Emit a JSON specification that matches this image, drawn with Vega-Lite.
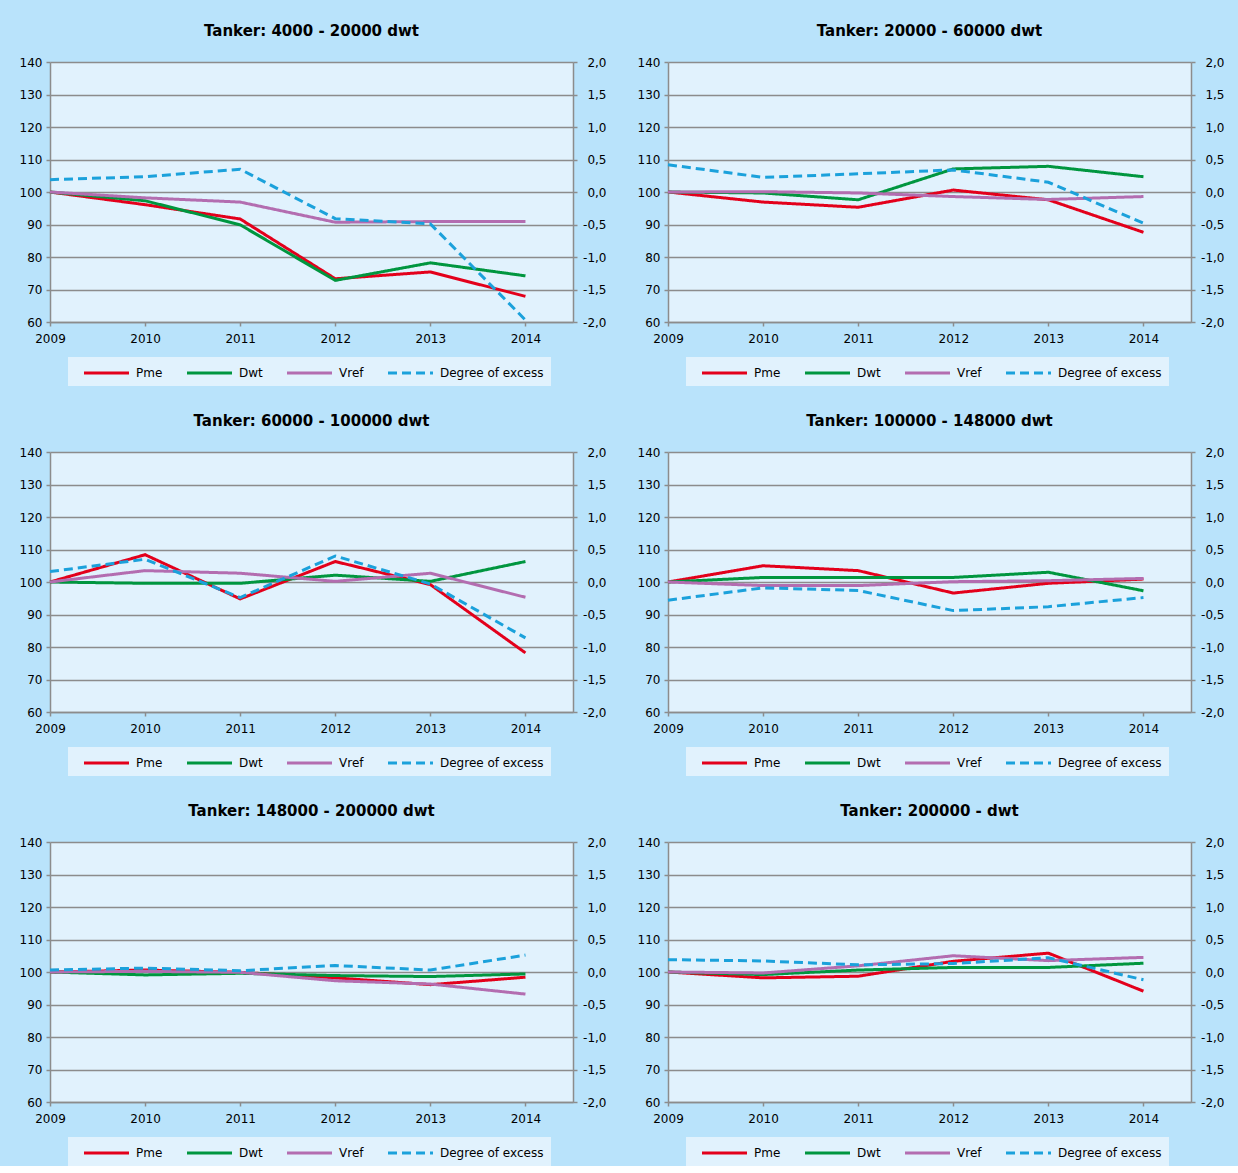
{
  "$schema": "https://vega.github.io/schema/vega-lite/v6.json",
  "padding": {"left": 19, "top": 24, "right": 14, "bottom": 0},
  "spacing": {"row": 28, "column": 31},
  "columns": 2,
  "data": {
    "values": [
      {"panel": 1, "series": "Pme", "year": 2009, "value": 100},
      {"panel": 1, "series": "Pme", "year": 2010, "value": 96.1},
      {"panel": 1, "series": "Pme", "year": 2011, "value": 91.7},
      {"panel": 1, "series": "Pme", "year": 2012, "value": 73.3},
      {"panel": 1, "series": "Pme", "year": 2013, "value": 75.4},
      {"panel": 1, "series": "Pme", "year": 2014, "value": 67.9},
      {"panel": 1, "series": "Dwt", "year": 2009, "value": 100},
      {"panel": 1, "series": "Dwt", "year": 2010, "value": 97.3},
      {"panel": 1, "series": "Dwt", "year": 2011, "value": 89.9},
      {"panel": 1, "series": "Dwt", "year": 2012, "value": 72.8},
      {"panel": 1, "series": "Dwt", "year": 2013, "value": 78.2},
      {"panel": 1, "series": "Dwt", "year": 2014, "value": 74.2},
      {"panel": 1, "series": "Vref", "year": 2009, "value": 100},
      {"panel": 1, "series": "Vref", "year": 2010, "value": 98.2},
      {"panel": 1, "series": "Vref", "year": 2011, "value": 96.9},
      {"panel": 1, "series": "Vref", "year": 2012, "value": 90.7},
      {"panel": 1, "series": "Vref", "year": 2013, "value": 90.9},
      {"panel": 1, "series": "Vref", "year": 2014, "value": 90.9},
      {"panel": 1, "series": "Degree of excess", "year": 2009, "value": 0.19},
      {"panel": 1, "series": "Degree of excess", "year": 2010, "value": 0.235},
      {"panel": 1, "series": "Degree of excess", "year": 2011, "value": 0.35},
      {"panel": 1, "series": "Degree of excess", "year": 2012, "value": -0.41},
      {"panel": 1, "series": "Degree of excess", "year": 2013, "value": -0.49},
      {"panel": 1, "series": "Degree of excess", "year": 2014, "value": -1.97},

      {"panel": 2, "series": "Pme", "year": 2009, "value": 100},
      {"panel": 2, "series": "Pme", "year": 2010, "value": 96.9},
      {"panel": 2, "series": "Pme", "year": 2011, "value": 95.3},
      {"panel": 2, "series": "Pme", "year": 2012, "value": 100.6},
      {"panel": 2, "series": "Pme", "year": 2013, "value": 97.6},
      {"panel": 2, "series": "Pme", "year": 2014, "value": 87.6},
      {"panel": 2, "series": "Dwt", "year": 2009, "value": 100},
      {"panel": 2, "series": "Dwt", "year": 2010, "value": 99.7},
      {"panel": 2, "series": "Dwt", "year": 2011, "value": 97.6},
      {"panel": 2, "series": "Dwt", "year": 2012, "value": 107.1},
      {"panel": 2, "series": "Dwt", "year": 2013, "value": 107.9},
      {"panel": 2, "series": "Dwt", "year": 2014, "value": 104.7},
      {"panel": 2, "series": "Vref", "year": 2009, "value": 100},
      {"panel": 2, "series": "Vref", "year": 2010, "value": 100.1},
      {"panel": 2, "series": "Vref", "year": 2011, "value": 99.7},
      {"panel": 2, "series": "Vref", "year": 2012, "value": 98.6},
      {"panel": 2, "series": "Vref", "year": 2013, "value": 97.7},
      {"panel": 2, "series": "Vref", "year": 2014, "value": 98.6},
      {"panel": 2, "series": "Degree of excess", "year": 2009, "value": 0.42},
      {"panel": 2, "series": "Degree of excess", "year": 2010, "value": 0.225},
      {"panel": 2, "series": "Degree of excess", "year": 2011, "value": 0.28},
      {"panel": 2, "series": "Degree of excess", "year": 2012, "value": 0.34},
      {"panel": 2, "series": "Degree of excess", "year": 2013, "value": 0.15},
      {"panel": 2, "series": "Degree of excess", "year": 2014, "value": -0.48},

      {"panel": 3, "series": "Pme", "year": 2009, "value": 100},
      {"panel": 3, "series": "Pme", "year": 2010, "value": 108.4},
      {"panel": 3, "series": "Pme", "year": 2011, "value": 94.8},
      {"panel": 3, "series": "Pme", "year": 2012, "value": 106.3},
      {"panel": 3, "series": "Pme", "year": 2013, "value": 99.2},
      {"panel": 3, "series": "Pme", "year": 2014, "value": 78.2},
      {"panel": 3, "series": "Dwt", "year": 2009, "value": 100},
      {"panel": 3, "series": "Dwt", "year": 2010, "value": 99.6},
      {"panel": 3, "series": "Dwt", "year": 2011, "value": 99.6},
      {"panel": 3, "series": "Dwt", "year": 2012, "value": 102.1},
      {"panel": 3, "series": "Dwt", "year": 2013, "value": 100.2},
      {"panel": 3, "series": "Dwt", "year": 2014, "value": 106.3},
      {"panel": 3, "series": "Vref", "year": 2009, "value": 100},
      {"panel": 3, "series": "Vref", "year": 2010, "value": 103.5},
      {"panel": 3, "series": "Vref", "year": 2011, "value": 102.7},
      {"panel": 3, "series": "Vref", "year": 2012, "value": 100.2},
      {"panel": 3, "series": "Vref", "year": 2013, "value": 102.7},
      {"panel": 3, "series": "Vref", "year": 2014, "value": 95.3},
      {"panel": 3, "series": "Degree of excess", "year": 2009, "value": 0.16},
      {"panel": 3, "series": "Degree of excess", "year": 2010, "value": 0.35},
      {"panel": 3, "series": "Degree of excess", "year": 2011, "value": -0.24},
      {"panel": 3, "series": "Degree of excess", "year": 2012, "value": 0.40},
      {"panel": 3, "series": "Degree of excess", "year": 2013, "value": -0.03},
      {"panel": 3, "series": "Degree of excess", "year": 2014, "value": -0.86},

      {"panel": 4, "series": "Pme", "year": 2009, "value": 100},
      {"panel": 4, "series": "Pme", "year": 2010, "value": 105.0},
      {"panel": 4, "series": "Pme", "year": 2011, "value": 103.5},
      {"panel": 4, "series": "Pme", "year": 2012, "value": 96.6},
      {"panel": 4, "series": "Pme", "year": 2013, "value": 99.6},
      {"panel": 4, "series": "Pme", "year": 2014, "value": 100.9},
      {"panel": 4, "series": "Dwt", "year": 2009, "value": 100},
      {"panel": 4, "series": "Dwt", "year": 2010, "value": 101.4},
      {"panel": 4, "series": "Dwt", "year": 2011, "value": 101.4},
      {"panel": 4, "series": "Dwt", "year": 2012, "value": 101.4},
      {"panel": 4, "series": "Dwt", "year": 2013, "value": 103.0},
      {"panel": 4, "series": "Dwt", "year": 2014, "value": 97.3},
      {"panel": 4, "series": "Vref", "year": 2009, "value": 100},
      {"panel": 4, "series": "Vref", "year": 2010, "value": 98.9},
      {"panel": 4, "series": "Vref", "year": 2011, "value": 98.9},
      {"panel": 4, "series": "Vref", "year": 2012, "value": 100.1},
      {"panel": 4, "series": "Vref", "year": 2013, "value": 100.4},
      {"panel": 4, "series": "Vref", "year": 2014, "value": 101.1},
      {"panel": 4, "series": "Degree of excess", "year": 2009, "value": -0.28},
      {"panel": 4, "series": "Degree of excess", "year": 2010, "value": -0.09},
      {"panel": 4, "series": "Degree of excess", "year": 2011, "value": -0.13},
      {"panel": 4, "series": "Degree of excess", "year": 2012, "value": -0.44},
      {"panel": 4, "series": "Degree of excess", "year": 2013, "value": -0.38},
      {"panel": 4, "series": "Degree of excess", "year": 2014, "value": -0.24},

      {"panel": 5, "series": "Pme", "year": 2009, "value": 100},
      {"panel": 5, "series": "Pme", "year": 2010, "value": 100.6},
      {"panel": 5, "series": "Pme", "year": 2011, "value": 99.9},
      {"panel": 5, "series": "Pme", "year": 2012, "value": 98.2},
      {"panel": 5, "series": "Pme", "year": 2013, "value": 96.1},
      {"panel": 5, "series": "Pme", "year": 2014, "value": 98.4},
      {"panel": 5, "series": "Dwt", "year": 2009, "value": 100},
      {"panel": 5, "series": "Dwt", "year": 2010, "value": 99.1},
      {"panel": 5, "series": "Dwt", "year": 2011, "value": 99.6},
      {"panel": 5, "series": "Dwt", "year": 2012, "value": 98.9},
      {"panel": 5, "series": "Dwt", "year": 2013, "value": 98.6},
      {"panel": 5, "series": "Dwt", "year": 2014, "value": 99.4},
      {"panel": 5, "series": "Vref", "year": 2009, "value": 100},
      {"panel": 5, "series": "Vref", "year": 2010, "value": 100.2},
      {"panel": 5, "series": "Vref", "year": 2011, "value": 99.9},
      {"panel": 5, "series": "Vref", "year": 2012, "value": 97.3},
      {"panel": 5, "series": "Vref", "year": 2013, "value": 96.3},
      {"panel": 5, "series": "Vref", "year": 2014, "value": 93.2},
      {"panel": 5, "series": "Degree of excess", "year": 2009, "value": 0.03},
      {"panel": 5, "series": "Degree of excess", "year": 2010, "value": 0.06},
      {"panel": 5, "series": "Degree of excess", "year": 2011, "value": 0.02},
      {"panel": 5, "series": "Degree of excess", "year": 2012, "value": 0.10},
      {"panel": 5, "series": "Degree of excess", "year": 2013, "value": 0.03},
      {"panel": 5, "series": "Degree of excess", "year": 2014, "value": 0.26},

      {"panel": 6, "series": "Pme", "year": 2009, "value": 100},
      {"panel": 6, "series": "Pme", "year": 2010, "value": 98.2},
      {"panel": 6, "series": "Pme", "year": 2011, "value": 98.7},
      {"panel": 6, "series": "Pme", "year": 2012, "value": 103.3},
      {"panel": 6, "series": "Pme", "year": 2013, "value": 105.8},
      {"panel": 6, "series": "Pme", "year": 2014, "value": 94.1},
      {"panel": 6, "series": "Dwt", "year": 2009, "value": 100},
      {"panel": 6, "series": "Dwt", "year": 2010, "value": 99.2},
      {"panel": 6, "series": "Dwt", "year": 2011, "value": 100.6},
      {"panel": 6, "series": "Dwt", "year": 2012, "value": 101.4},
      {"panel": 6, "series": "Dwt", "year": 2013, "value": 101.4},
      {"panel": 6, "series": "Dwt", "year": 2014, "value": 102.7},
      {"panel": 6, "series": "Vref", "year": 2009, "value": 100},
      {"panel": 6, "series": "Vref", "year": 2010, "value": 99.7},
      {"panel": 6, "series": "Vref", "year": 2011, "value": 101.9},
      {"panel": 6, "series": "Vref", "year": 2012, "value": 105.0},
      {"panel": 6, "series": "Vref", "year": 2013, "value": 103.5},
      {"panel": 6, "series": "Vref", "year": 2014, "value": 104.5},
      {"panel": 6, "series": "Degree of excess", "year": 2009, "value": 0.19},
      {"panel": 6, "series": "Degree of excess", "year": 2010, "value": 0.17},
      {"panel": 6, "series": "Degree of excess", "year": 2011, "value": 0.11},
      {"panel": 6, "series": "Degree of excess", "year": 2012, "value": 0.13},
      {"panel": 6, "series": "Degree of excess", "year": 2013, "value": 0.22},
      {"panel": 6, "series": "Degree of excess", "year": 2014, "value": -0.12}
    ]
  },
  "concat": [
    {
      "title": "Tanker: 4000 - 20000 dwt",
      "width": 523, "height": 260,
      "transform": [{"filter": "datum.panel == 1"}],
      "layer": [
        {
          "transform": [{"filter": "datum.series != 'Degree of excess'"}],
          "mark": {"type": "line", "strokeWidth": 3},
          "encoding": {
            "x": {"field": "year", "type": "quantitative", "scale": {"domain": [2009, 2014.5], "nice": false}, "axis": {"values": [2009, 2010, 2011, 2012, 2013, 2014], "format": "d", "grid": false, "labelPadding": 7}},
            "y": {"field": "value", "type": "quantitative", "scale": {"domain": [60, 140], "nice": false}, "axis": {"values": [60, 70, 80, 90, 100, 110, 120, 130, 140], "grid": true}},
            "color": {"field": "series", "type": "nominal", "title": null, "scale": {"domain": ["Pme", "Dwt", "Vref", "Degree of excess"], "range": ["#e3001b", "#00963f", "#b36db0", "#1ba1db"]}, "legend": {"orient": "none", "legendX": 18, "legendY": 295}},
            "strokeDash": {"field": "series", "type": "nominal", "title": null, "scale": {"domain": ["Pme", "Dwt", "Vref", "Degree of excess"], "range": [[1, 0], [1, 0], [1, 0], [9, 5]]}, "legend": {"orient": "none", "legendX": 18, "legendY": 295}}
          }
        },
        {
          "transform": [{"filter": "datum.series == 'Degree of excess'"}],
          "mark": {"type": "line", "strokeWidth": 3},
          "encoding": {
            "x": {"field": "year", "type": "quantitative"},
            "y": {"field": "value", "type": "quantitative", "scale": {"domain": [-2, 2], "nice": false}, "axis": {"orient": "right", "values": [-2, -1.5, -1, -0.5, 0, 0.5, 1, 1.5, 2], "grid": false, "labelAlign": "right", "labelPadding": 29, "labelExpr": "replace(replace(format(datum.value, '.1f'), '.', ','), '\u2212', '-')"}},
            "color": {"field": "series", "type": "nominal", "title": null},
            "strokeDash": {"field": "series", "type": "nominal", "title": null}
          }
        }
      ],
      "resolve": {"scale": {"y": "independent"}}
    },
    {
      "title": "Tanker: 20000 - 60000 dwt",
      "width": 523, "height": 260,
      "transform": [{"filter": "datum.panel == 2"}],
      "layer": [
        {
          "transform": [{"filter": "datum.series != 'Degree of excess'"}],
          "mark": {"type": "line", "strokeWidth": 3},
          "encoding": {
            "x": {"field": "year", "type": "quantitative", "scale": {"domain": [2009, 2014.5], "nice": false}, "axis": {"values": [2009, 2010, 2011, 2012, 2013, 2014], "format": "d", "grid": false, "labelPadding": 7}},
            "y": {"field": "value", "type": "quantitative", "scale": {"domain": [60, 140], "nice": false}, "axis": {"values": [60, 70, 80, 90, 100, 110, 120, 130, 140], "grid": true}},
            "color": {"field": "series", "type": "nominal", "title": null, "scale": {"domain": ["Pme", "Dwt", "Vref", "Degree of excess"], "range": ["#e3001b", "#00963f", "#b36db0", "#1ba1db"]}, "legend": {"orient": "none", "legendX": 18, "legendY": 295}},
            "strokeDash": {"field": "series", "type": "nominal", "title": null, "scale": {"domain": ["Pme", "Dwt", "Vref", "Degree of excess"], "range": [[1, 0], [1, 0], [1, 0], [9, 5]]}, "legend": {"orient": "none", "legendX": 18, "legendY": 295}}
          }
        },
        {
          "transform": [{"filter": "datum.series == 'Degree of excess'"}],
          "mark": {"type": "line", "strokeWidth": 3},
          "encoding": {
            "x": {"field": "year", "type": "quantitative"},
            "y": {"field": "value", "type": "quantitative", "scale": {"domain": [-2, 2], "nice": false}, "axis": {"orient": "right", "values": [-2, -1.5, -1, -0.5, 0, 0.5, 1, 1.5, 2], "grid": false, "labelAlign": "right", "labelPadding": 29, "labelExpr": "replace(replace(format(datum.value, '.1f'), '.', ','), '\u2212', '-')"}},
            "color": {"field": "series", "type": "nominal", "title": null},
            "strokeDash": {"field": "series", "type": "nominal", "title": null}
          }
        }
      ],
      "resolve": {"scale": {"y": "independent"}}
    },
    {
      "title": "Tanker: 60000 - 100000 dwt",
      "width": 523, "height": 260,
      "transform": [{"filter": "datum.panel == 3"}],
      "layer": [
        {
          "transform": [{"filter": "datum.series != 'Degree of excess'"}],
          "mark": {"type": "line", "strokeWidth": 3},
          "encoding": {
            "x": {"field": "year", "type": "quantitative", "scale": {"domain": [2009, 2014.5], "nice": false}, "axis": {"values": [2009, 2010, 2011, 2012, 2013, 2014], "format": "d", "grid": false, "labelPadding": 7}},
            "y": {"field": "value", "type": "quantitative", "scale": {"domain": [60, 140], "nice": false}, "axis": {"values": [60, 70, 80, 90, 100, 110, 120, 130, 140], "grid": true}},
            "color": {"field": "series", "type": "nominal", "title": null, "scale": {"domain": ["Pme", "Dwt", "Vref", "Degree of excess"], "range": ["#e3001b", "#00963f", "#b36db0", "#1ba1db"]}, "legend": {"orient": "none", "legendX": 18, "legendY": 295}},
            "strokeDash": {"field": "series", "type": "nominal", "title": null, "scale": {"domain": ["Pme", "Dwt", "Vref", "Degree of excess"], "range": [[1, 0], [1, 0], [1, 0], [9, 5]]}, "legend": {"orient": "none", "legendX": 18, "legendY": 295}}
          }
        },
        {
          "transform": [{"filter": "datum.series == 'Degree of excess'"}],
          "mark": {"type": "line", "strokeWidth": 3},
          "encoding": {
            "x": {"field": "year", "type": "quantitative"},
            "y": {"field": "value", "type": "quantitative", "scale": {"domain": [-2, 2], "nice": false}, "axis": {"orient": "right", "values": [-2, -1.5, -1, -0.5, 0, 0.5, 1, 1.5, 2], "grid": false, "labelAlign": "right", "labelPadding": 29, "labelExpr": "replace(replace(format(datum.value, '.1f'), '.', ','), '\u2212', '-')"}},
            "color": {"field": "series", "type": "nominal", "title": null},
            "strokeDash": {"field": "series", "type": "nominal", "title": null}
          }
        }
      ],
      "resolve": {"scale": {"y": "independent"}}
    },
    {
      "title": "Tanker: 100000 - 148000 dwt",
      "width": 523, "height": 260,
      "transform": [{"filter": "datum.panel == 4"}],
      "layer": [
        {
          "transform": [{"filter": "datum.series != 'Degree of excess'"}],
          "mark": {"type": "line", "strokeWidth": 3},
          "encoding": {
            "x": {"field": "year", "type": "quantitative", "scale": {"domain": [2009, 2014.5], "nice": false}, "axis": {"values": [2009, 2010, 2011, 2012, 2013, 2014], "format": "d", "grid": false, "labelPadding": 7}},
            "y": {"field": "value", "type": "quantitative", "scale": {"domain": [60, 140], "nice": false}, "axis": {"values": [60, 70, 80, 90, 100, 110, 120, 130, 140], "grid": true}},
            "color": {"field": "series", "type": "nominal", "title": null, "scale": {"domain": ["Pme", "Dwt", "Vref", "Degree of excess"], "range": ["#e3001b", "#00963f", "#b36db0", "#1ba1db"]}, "legend": {"orient": "none", "legendX": 18, "legendY": 295}},
            "strokeDash": {"field": "series", "type": "nominal", "title": null, "scale": {"domain": ["Pme", "Dwt", "Vref", "Degree of excess"], "range": [[1, 0], [1, 0], [1, 0], [9, 5]]}, "legend": {"orient": "none", "legendX": 18, "legendY": 295}}
          }
        },
        {
          "transform": [{"filter": "datum.series == 'Degree of excess'"}],
          "mark": {"type": "line", "strokeWidth": 3},
          "encoding": {
            "x": {"field": "year", "type": "quantitative"},
            "y": {"field": "value", "type": "quantitative", "scale": {"domain": [-2, 2], "nice": false}, "axis": {"orient": "right", "values": [-2, -1.5, -1, -0.5, 0, 0.5, 1, 1.5, 2], "grid": false, "labelAlign": "right", "labelPadding": 29, "labelExpr": "replace(replace(format(datum.value, '.1f'), '.', ','), '\u2212', '-')"}},
            "color": {"field": "series", "type": "nominal", "title": null},
            "strokeDash": {"field": "series", "type": "nominal", "title": null}
          }
        }
      ],
      "resolve": {"scale": {"y": "independent"}}
    },
    {
      "title": "Tanker: 148000 - 200000 dwt",
      "width": 523, "height": 260,
      "transform": [{"filter": "datum.panel == 5"}],
      "layer": [
        {
          "transform": [{"filter": "datum.series != 'Degree of excess'"}],
          "mark": {"type": "line", "strokeWidth": 3},
          "encoding": {
            "x": {"field": "year", "type": "quantitative", "scale": {"domain": [2009, 2014.5], "nice": false}, "axis": {"values": [2009, 2010, 2011, 2012, 2013, 2014], "format": "d", "grid": false, "labelPadding": 7}},
            "y": {"field": "value", "type": "quantitative", "scale": {"domain": [60, 140], "nice": false}, "axis": {"values": [60, 70, 80, 90, 100, 110, 120, 130, 140], "grid": true}},
            "color": {"field": "series", "type": "nominal", "title": null, "scale": {"domain": ["Pme", "Dwt", "Vref", "Degree of excess"], "range": ["#e3001b", "#00963f", "#b36db0", "#1ba1db"]}, "legend": {"orient": "none", "legendX": 18, "legendY": 295}},
            "strokeDash": {"field": "series", "type": "nominal", "title": null, "scale": {"domain": ["Pme", "Dwt", "Vref", "Degree of excess"], "range": [[1, 0], [1, 0], [1, 0], [9, 5]]}, "legend": {"orient": "none", "legendX": 18, "legendY": 295}}
          }
        },
        {
          "transform": [{"filter": "datum.series == 'Degree of excess'"}],
          "mark": {"type": "line", "strokeWidth": 3},
          "encoding": {
            "x": {"field": "year", "type": "quantitative"},
            "y": {"field": "value", "type": "quantitative", "scale": {"domain": [-2, 2], "nice": false}, "axis": {"orient": "right", "values": [-2, -1.5, -1, -0.5, 0, 0.5, 1, 1.5, 2], "grid": false, "labelAlign": "right", "labelPadding": 29, "labelExpr": "replace(replace(format(datum.value, '.1f'), '.', ','), '\u2212', '-')"}},
            "color": {"field": "series", "type": "nominal", "title": null},
            "strokeDash": {"field": "series", "type": "nominal", "title": null}
          }
        }
      ],
      "resolve": {"scale": {"y": "independent"}}
    },
    {
      "title": "Tanker: 200000 -  dwt",
      "width": 523, "height": 260,
      "transform": [{"filter": "datum.panel == 6"}],
      "layer": [
        {
          "transform": [{"filter": "datum.series != 'Degree of excess'"}],
          "mark": {"type": "line", "strokeWidth": 3},
          "encoding": {
            "x": {"field": "year", "type": "quantitative", "scale": {"domain": [2009, 2014.5], "nice": false}, "axis": {"values": [2009, 2010, 2011, 2012, 2013, 2014], "format": "d", "grid": false, "labelPadding": 7}},
            "y": {"field": "value", "type": "quantitative", "scale": {"domain": [60, 140], "nice": false}, "axis": {"values": [60, 70, 80, 90, 100, 110, 120, 130, 140], "grid": true}},
            "color": {"field": "series", "type": "nominal", "title": null, "scale": {"domain": ["Pme", "Dwt", "Vref", "Degree of excess"], "range": ["#e3001b", "#00963f", "#b36db0", "#1ba1db"]}, "legend": {"orient": "none", "legendX": 18, "legendY": 295}},
            "strokeDash": {"field": "series", "type": "nominal", "title": null, "scale": {"domain": ["Pme", "Dwt", "Vref", "Degree of excess"], "range": [[1, 0], [1, 0], [1, 0], [9, 5]]}, "legend": {"orient": "none", "legendX": 18, "legendY": 295}}
          }
        },
        {
          "transform": [{"filter": "datum.series == 'Degree of excess'"}],
          "mark": {"type": "line", "strokeWidth": 3},
          "encoding": {
            "x": {"field": "year", "type": "quantitative"},
            "y": {"field": "value", "type": "quantitative", "scale": {"domain": [-2, 2], "nice": false}, "axis": {"orient": "right", "values": [-2, -1.5, -1, -0.5, 0, 0.5, 1, 1.5, 2], "grid": false, "labelAlign": "right", "labelPadding": 29, "labelExpr": "replace(replace(format(datum.value, '.1f'), '.', ','), '\u2212', '-')"}},
            "color": {"field": "series", "type": "nominal", "title": null},
            "strokeDash": {"field": "series", "type": "nominal", "title": null}
          }
        }
      ],
      "resolve": {"scale": {"y": "independent"}}
    }
  ],
  "resolve": {"legend": {"color": "independent", "strokeDash": "independent"}},
  "config": {
    "background": "#b9e3fb",
    "font": "DejaVu Sans",
    "view": {"fill": "#e1f2fd", "stroke": null},
    "axis": {
      "title": null,
      "labelFontSize": 12,
      "labelColor": "#000000",
      "labelFont": "DejaVu Sans",
      "labelFlush": false,
      "domainColor": "#8c8c8c",
      "domainWidth": 1.5,
      "tickColor": "#8c8c8c",
      "tickWidth": 1.5,
      "tickSize": 4,
      "labelPadding": 4,
      "gridColor": "#8c8c8c",
      "gridWidth": 1.5,
      "gridOpacity": 1
    },
    "title": {"fontSize": 15, "fontWeight": "bold", "color": "#000000", "offset": 17, "anchor": "middle"},
    "legend": {
      "direction": "horizontal",
      "columns": 4,
      "symbolType": "M0,0H6",
      "symbolSize": 225,
      "symbolStrokeWidth": 3,
      "labelFontSize": 12,
      "labelColor": "#000000",
      "labelOffset": 43,
      "columnPadding": 15,
      "padding": 7,
      "fillColor": "#e1f2fd",
      "strokeColor": null
    },
    "line": {"strokeCap": "butt"}
  }
}
